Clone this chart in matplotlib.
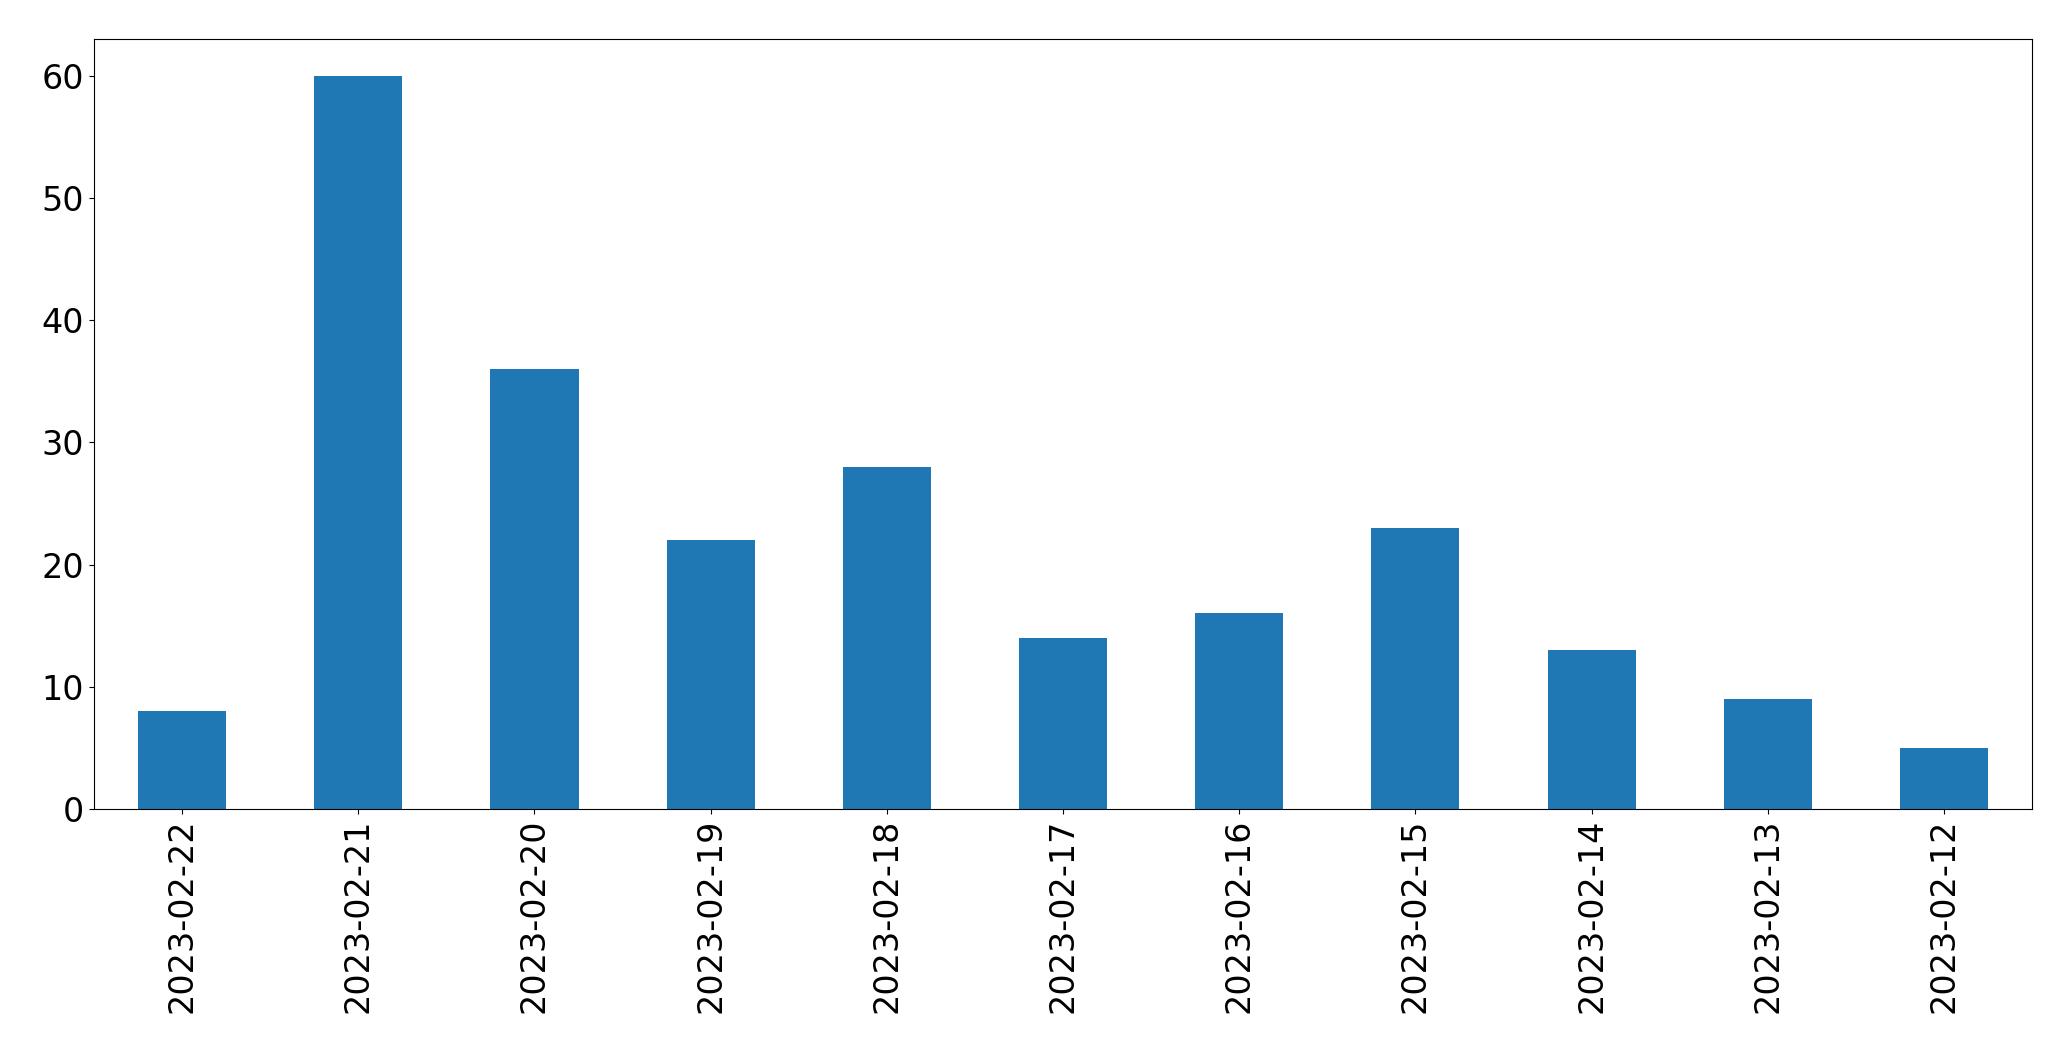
import matplotlib
matplotlib.use("Agg")
import matplotlib.pyplot as plt

dates = ["2023-02-22", "2023-02-21", "2023-02-20", "2023-02-19", "2023-02-18",
         "2023-02-17", "2023-02-16", "2023-02-15", "2023-02-14", "2023-02-13",
         "2023-02-12"]
counts = [8, 60, 36, 22, 28, 14, 16, 23, 13, 9, 5]

fig = plt.figure(figsize=(20.71, 10.61), dpi=100)
ax = fig.add_axes([94/2071, 1-809/1061, (2032-94)/2071, (809-39)/1061])
x = list(range(len(dates)))
ax.bar(x, counts, width=0.5, color="#1f77b4")
ax.set_xlim(-0.5, len(dates) - 0.5)
ax.set_xticks(x)
ax.set_xticklabels(dates, rotation=90, fontsize=24)
ax.tick_params(axis="y", labelsize=24)
fig.savefig("out.png", dpi=100)
